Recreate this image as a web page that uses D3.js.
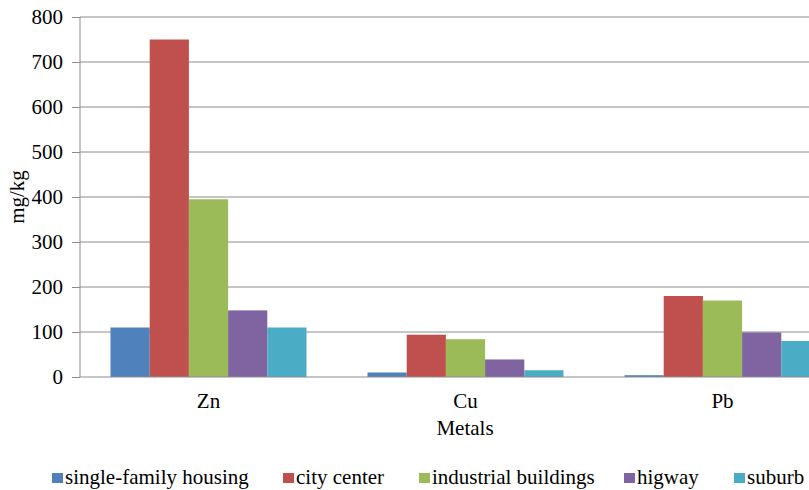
<!DOCTYPE html>
<html>
<head>
<meta charset="utf-8">
<script src="https://cdn.jsdelivr.net/npm/d3@7"></script>
<style>
  body { margin: 0; background: #fff; }
  svg text { font-family: "Liberation Serif", "Times New Roman", "DejaVu Serif", serif; fill: #000; }
</style>
</head>
<body>
<div id="chart"></div>
<script>
// categories and series
var metals = ["Zn", "Cu", "Pb"];
var sites = ["single-family housing", "city center", "industrial buildings", "higway", "suburb"];
var colors = ["#4f81bd", "#c0504d", "#9bbb59", "#8064a2", "#4bacc6"];

// values in mg/kg, one array per site (Zn, Cu, Pb)
var singleFamily = [110, 10, 4];
var cityCenter   = [750, 94, 180];
var industrial   = [395, 84, 170];
var higway       = [148, 39, 99];
var suburb       = [110, 15, 80];
var yTicks = [0, 100, 200, 300, 400, 500, 600, 700, 800];

var seriesValues = [singleFamily, cityCenter, industrial, higway, suburb];

var svgWidth = 809, svgHeight = 490;
var margin = { top: 17, left: 80, bottom: 113 };
var plotH = svgHeight - margin.top - margin.bottom;   // 360
var bandW = 257;  // plot runs past the right edge, like the original
var fs = 21;

var svg = d3.select("#chart").append("svg")
  .attr("width", svgWidth).attr("height", svgHeight);
var g = svg.append("g").attr("transform", `translate(${margin.left}, ${margin.top})`);

var x0 = d3.scaleBand().domain(metals).range([0, bandW * metals.length]).padding(0);
var x1 = d3.scaleBand().domain(d3.range(sites.length)).range([30.5, bandW - 30.5]).padding(0);
var y = d3.scaleLinear().domain([0, 800]).range([plotH, 0]);

// gridlines
g.append("g").selectAll("line").data(yTicks.slice(1)).enter().append("line")
  .attr("x1", 0).attr("x2", svgWidth)
  .attr("y1", d => y(d)).attr("y2", d => y(d))
  .attr("stroke", "#8c8c8c").attr("stroke-width", 1);

// y axis
var yAxis = d3.axisLeft(y).tickValues(yTicks).tickSize(8).tickPadding(9);
var ya = g.append("g").call(yAxis).attr("font-family", null).attr("font-size", null);
ya.select(".domain").attr("stroke", "#8c8c8c").attr("d", `M0,0V${plotH}`);
ya.selectAll(".tick line").attr("stroke", "#8c8c8c");
ya.selectAll(".tick text").attr("font-size", fs);

// bars
var groups = g.selectAll(".grp").data(metals).enter().append("g")
  .attr("class", "grp")
  .attr("transform", d => `translate(${x0(d)},0)`);
groups.selectAll("rect").data((m, i) => seriesValues.map((s, k) => ({ k: k, v: s[i] })))
  .enter().append("rect")
  .attr("x", d => x1(d.k))
  .attr("width", x1.bandwidth())
  .attr("y", d => y(d.v))
  .attr("height", d => plotH - y(d.v))
  .attr("fill", d => colors[d.k]);

// x axis line
g.append("line").attr("x1", 0).attr("x2", svgWidth).attr("y1", plotH).attr("y2", plotH)
  .attr("stroke", "#8c8c8c");

// category labels
g.selectAll(".cat").data(metals).enter().append("text")
  .attr("x", d => x0(d) + bandW / 2)
  .attr("y", 408 - margin.top)
  .attr("text-anchor", "middle")
  .attr("font-size", fs)
  .text(d => d);

// axis titles
svg.append("text").attr("x", 465).attr("y", 435).attr("text-anchor", "middle")
  .attr("font-size", fs).text("Metals");
svg.append("text").attr("transform", "translate(24,197) rotate(-90)")
  .attr("text-anchor", "middle").attr("font-size", fs).text("mg/kg");

// legend (kept just inside the bottom edge)
var legendX = [52, 283, 419, 624, 734];
var leg = svg.append("g").selectAll("g").data(sites).enter().append("g")
  .attr("transform", (d, i) => `translate(${legendX[i]}, 484)`);
leg.append("rect").attr("x", 0).attr("y", -11).attr("width", 11).attr("height", 10)
  .attr("fill", (d, i) => colors[i]);
leg.append("text").attr("x", 13).attr("y", 0).attr("font-size", fs).text(d => d);
</script>
</body>
</html>
